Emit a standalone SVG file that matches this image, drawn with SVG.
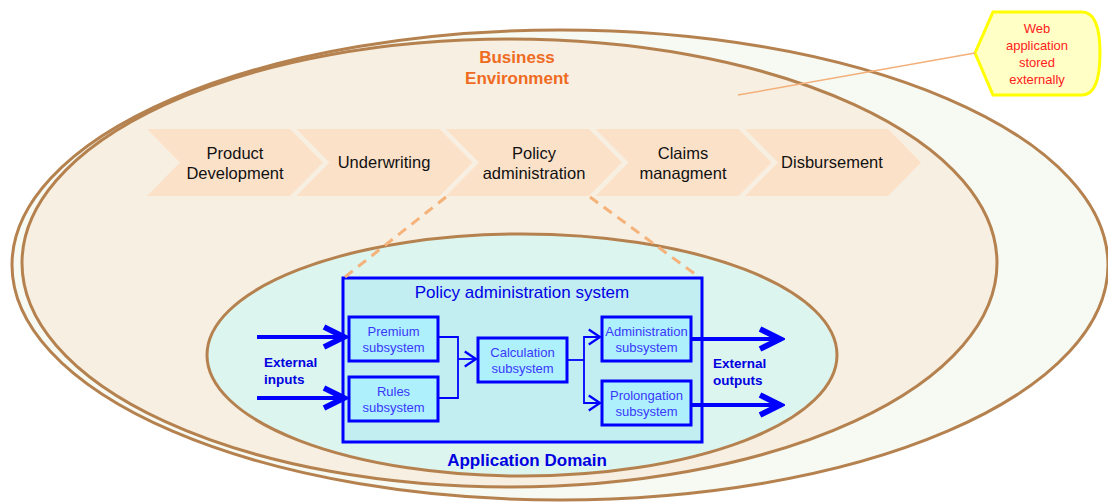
<svg xmlns="http://www.w3.org/2000/svg" width="1108" height="502" viewBox="0 0 1108 502">
<style>
.ell{stroke:#b5824f;stroke-width:3}
.chev{fill:#fce1c9}
.ct{font-family:"Liberation Sans",Arial,sans-serif;font-size:16.5px;fill:#111;text-anchor:middle}
.box{fill:#aff0fd;stroke:#0000ff;stroke-width:3}
.bt{font-family:"Liberation Sans",Arial,sans-serif;font-size:13px;fill:#3838ff;text-anchor:middle}
.lbl{font-family:"Liberation Sans",Arial,sans-serif;font-weight:bold;fill:#0000e0}
.thin{fill:none;stroke:#0000ff;stroke-width:1.8}
.thick{fill:none;stroke:#0000ff;stroke-width:4}
.dash{fill:none;stroke:#f5b27a;stroke-width:3;stroke-dasharray:10 7}
</style>
<defs>
<marker id="big" markerUnits="userSpaceOnUse" markerWidth="30" markerHeight="30" viewBox="-20 -12 24 24" refX="0" refY="0" orient="auto">
<path d="M-16,-8 L0,0 L-16,8" fill="none" stroke="#0000ff" stroke-width="4.5"/>
</marker>
<marker id="small" markerUnits="userSpaceOnUse" markerWidth="20" markerHeight="20" viewBox="-12 -8 14 16" refX="0" refY="0" orient="auto">
<path d="M-9,-6 L0,0 L-9,6" fill="none" stroke="#0000ff" stroke-width="1.8"/>
</marker>
</defs>

<g id="outer-environment">
<ellipse class="ell" cx="560" cy="265" rx="548" ry="235" fill="#f6faf3"/>
</g>
<g id="business-environment">
<ellipse class="ell" cx="509.5" cy="263" rx="487.5" ry="224" fill="#f7efe1"/>
<text x="517" y="63" font-family="Liberation Sans, Arial, sans-serif" font-weight="bold" font-size="17" fill="#ef6b1f" text-anchor="middle">Business</text>
<text x="517" y="84" font-family="Liberation Sans, Arial, sans-serif" font-weight="bold" font-size="17" fill="#ef6b1f" text-anchor="middle">Environment</text>
</g>

<g id="chevron-product-development">
<polygon class="chev" points="147,129 290,129 323,162.5 290,196 147,196 180,162.5"/>
<text class="ct" x="235" y="159">Product</text>
<text class="ct" x="235" y="179">Development</text>
</g>
<g id="chevron-underwriting">
<polygon class="chev" points="296.5,129 439.5,129 472.5,162.5 439.5,196 296.5,196 329.5,162.5"/>
<text class="ct" x="384" y="168">Underwriting</text>
</g>
<g id="chevron-policy-administration">
<polygon class="chev" points="446,129 589,129 622,162.5 589,196 446,196 479,162.5"/>
<text class="ct" x="534" y="159">Policy</text>
<text class="ct" x="534" y="179">administration</text>
</g>
<g id="chevron-claims">
<polygon class="chev" points="595.5,129 738.5,129 771.5,162.5 738.5,196 595.5,196 628.5,162.5"/>
<text class="ct" x="683" y="159">Claims</text>
<text class="ct" x="683" y="179">managment</text>
</g>
<g id="chevron-disbursement">
<polygon class="chev" points="745,129 888,129 921,162.5 888,196 745,196 778,162.5"/>
<text class="ct" x="832" y="168">Disbursement</text>
</g>

<g id="application-domain">
<ellipse class="ell" cx="522" cy="355" rx="315" ry="121" fill="#ddf5ef"/>
<text class="lbl" x="527" y="466" font-size="17" text-anchor="middle">Application Domain</text>
</g>

<g id="policy-administration-system">
<rect x="343" y="278" width="359" height="164" fill="#c2eef1" stroke="#0000ff" stroke-width="3"/>
<text x="522" y="298" font-family="Liberation Sans, Arial, sans-serif" font-size="17" fill="#0000e6" text-anchor="middle">Policy administration system</text>
</g>

<g id="premium-subsystem">
<rect class="box" x="349" y="317" width="89" height="44"/>
<text class="bt" x="393.5" y="336">Premium</text>
<text class="bt" x="393.5" y="352">subsystem</text>
</g>
<g id="rules-subsystem">
<rect class="box" x="349" y="377" width="89" height="44"/>
<text class="bt" x="393.5" y="396">Rules</text>
<text class="bt" x="393.5" y="412">subsystem</text>
</g>
<g id="calculation-subsystem">
<rect class="box" x="478" y="338" width="89" height="44"/>
<text class="bt" x="522.5" y="357">Calculation</text>
<text class="bt" x="522.5" y="373">subsystem</text>
</g>
<g id="administration-subsystem">
<rect class="box" x="602" y="317" width="89" height="44"/>
<text class="bt" x="646.5" y="336">Administration</text>
<text class="bt" x="646.5" y="352">subsystem</text>
</g>
<g id="prolongation-subsystem">
<rect class="box" x="602" y="381" width="89" height="44"/>
<text class="bt" x="646.5" y="400">Prolongation</text>
<text class="bt" x="646.5" y="416">subsystem</text>
</g>

<g id="external-inputs">
<text class="lbl" x="264" y="367" font-size="13.5">External</text>
<text class="lbl" x="264" y="384" font-size="13.5">inputs</text>
</g>
<g id="external-outputs">
<text class="lbl" x="713" y="368" font-size="13.5">External</text>
<text class="lbl" x="713" y="385" font-size="13.5">outputs</text>
</g>

<g id="callout">
<path d="M975,53 L993,12 L1082,12 Q1100,12 1100,53 Q1100,95 1082,95 L993,95 Z" fill="#ffffc6" stroke="#ffff00" stroke-width="3"/>
<text x="1037" y="33" font-family="Liberation Sans, Arial, sans-serif" font-size="13" fill="#ff2020" text-anchor="middle">Web</text>
<text x="1037" y="50" font-family="Liberation Sans, Arial, sans-serif" font-size="13" fill="#ff2020" text-anchor="middle">application</text>
<text x="1037" y="67" font-family="Liberation Sans, Arial, sans-serif" font-size="13" fill="#ff2020" text-anchor="middle">stored</text>
<text x="1037" y="84" font-family="Liberation Sans, Arial, sans-serif" font-size="13" fill="#ff2020" text-anchor="middle">externally</text>
</g>

<g id="connectors">
<line x1="975" y1="53" x2="738" y2="95" stroke="#f3b07a" stroke-width="1.5"/>
<line class="dash" x1="446" y1="197" x2="345" y2="277"/>
<line class="dash" x1="590" y1="197" x2="699" y2="277"/>
<line class="thick" x1="257" y1="337" x2="344" y2="337" marker-end="url(#big)"/>
<line class="thick" x1="257" y1="398" x2="344" y2="398" marker-end="url(#big)"/>
<line class="thick" x1="691" y1="339" x2="780" y2="339" marker-end="url(#big)"/>
<line class="thick" x1="691" y1="405" x2="780" y2="405" marker-end="url(#big)"/>
<polyline class="thin" points="438,337 458,337 458,398 438,398"/>
<line class="thin" x1="458" y1="359" x2="476" y2="359" marker-end="url(#small)"/>
<line class="thin" x1="567" y1="360" x2="584" y2="360"/>
<polyline class="thin" points="600,337 584,337 584,403 600,403"/>
<line class="thin" x1="590" y1="337" x2="600" y2="337" marker-end="url(#small)"/>
<line class="thin" x1="590" y1="403" x2="600" y2="403" marker-end="url(#small)"/>
</g>
</svg>
